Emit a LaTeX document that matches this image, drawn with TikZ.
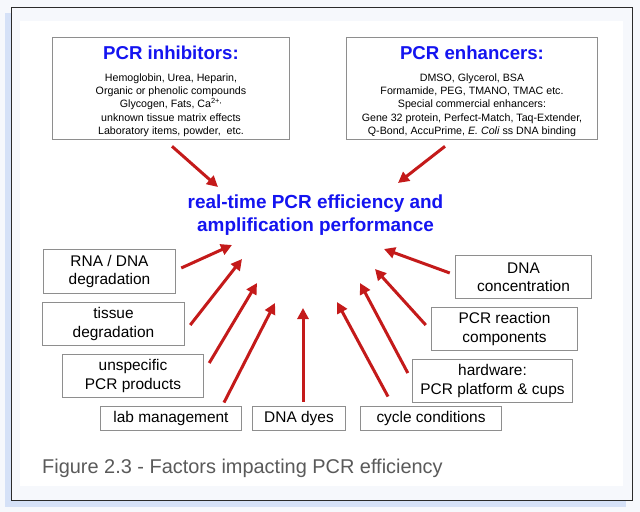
\documentclass[tikz,border=0pt]{standalone}
\usepackage{fontspec}
\setmainfont{Liberation Sans}
\usepackage{xcolor}
\usetikzlibrary{arrows.meta}

\definecolor{pagebg}{HTML}{F6F8FC}
\definecolor{shadowblue}{HTML}{D5E1F7}
\definecolor{framegray}{HTML}{2B2B2B}
\definecolor{boxgray}{HTML}{8E8E8E}
\definecolor{arrowred}{HTML}{C41A1A}
\definecolor{titleblue}{HTML}{1414F0}
\definecolor{captiongray}{HTML}{5A5A5A}

\newcommand{\pcrtitle}{\fontsize{18.7}{22}\selectfont\bfseries\color{titleblue}\rule{0pt}{19.6bp}}

\begin{document}
\begin{tikzpicture}[x=1bp, y=-1bp,
    box/.style={rectangle, draw=boxgray, line width=1bp, fill=white, align=center, inner sep=0pt, font=\fontsize{15.5}{18.5}\selectfont},
    listbox/.style={box, font=\fontsize{10.7}{13.5}\selectfont},
    arrow/.style={-{Triangle[length=11bp,width=11bp]}, line width=3bp, arrowred}
]
    % Page and frame
    \fill[pagebg] (0,0) rectangle (640,512);
    \useasboundingbox (0,0) rectangle (640,512);
    \fill[shadowblue] (5,13) rectangle (626,507);
    \draw[framegray, fill=pagebg, line width=1bp] (11.5,7.5) rectangle (632,500);
    \fill[white] (20,21) rectangle (623,486);

    % Inhibitors and enhancers
    \node[listbox, minimum width=238, minimum height=103] (inhib) at (171,88.5) {{\pcrtitle PCR inhibitors:}\\[8bp]
        Hemoglobin, Urea, Heparin,\\
        Organic or phenolic compounds\\
        Glycogen, Fats, Ca\textsuperscript{2+,}\\
        unknown tissue matrix effects\\
        Laboratory items, powder,\ \ etc.};
    \node[listbox, minimum width=252, minimum height=103] (enh) at (472,88.5) {{\pcrtitle PCR enhancers:}\\[8bp]
        DMSO, Glycerol, BSA\\
        Formamide, PEG, TMANO, TMAC etc.\\
        Special commercial enhancers:\\
        Gene 32 protein, Perfect-Match, Taq-Extender,\\
        Q-Bond, AccuPrime, \textit{E. Coli} ss DNA binding};

    % Goal
    \node[align=center, font=\fontsize{19}{23}\selectfont\bfseries, text=titleblue] (goal) at (315.5,215) {real-time PCR efficiency and\\amplification performance};

    % Factors
    \node[box, minimum width=133, minimum height=44] (rna) at (109.5,271.5) {RNA / DNA\\degradation};
    \node[box, minimum width=142, minimum height=44] (tissue) at (113.5,324) {tissue\\degradation};
    \node[box, minimum width=142, minimum height=44] (unsp) at (133,376) {unspecific\\PCR products};
    \node[box, minimum width=142, minimum height=25] (lab) at (171,418.5) {lab management};
    \node[box, minimum width=94, minimum height=25] (dyes) at (299,418.5) {DNA dyes};
    \node[box, minimum width=142, minimum height=25] (cycle) at (431,418.5) {cycle conditions};
    \node[box, minimum width=161, minimum height=44] (hw) at (492.5,381) {hardware:\\PCR platform \& cups};
    \node[box, minimum width=147, minimum height=44] (react) at (504.5,329) {PCR reaction\\components};
    \node[box, minimum width=137, minimum height=44] (conc) at (523.5,277) {DNA\\concentration};

    % Arrow tips
    \coordinate (inhibtip) at (218,187);
    \coordinate (enhtip) at (398,183);
    \coordinate (rnatip) at (232,245);
    \coordinate (tissuetip) at (242,259);
    \coordinate (unsptip) at (257,283);
    \coordinate (labtip) at (275,303);
    \coordinate (dyestip) at (303,308);
    \coordinate (cycletip) at (337,302);
    \coordinate (hwtip) at (360,283);
    \coordinate (reacttip) at (375,269);
    \coordinate (conctip) at (384,249);

    % Arrows
    \draw[arrow] ([shift={(1,6)}]inhib.south) -- (inhibtip);
    \draw[arrow] ([shift={(-27,6)}]enh.south) -- (enhtip);
    \draw[arrow] ([shift={(5,-3.5)}]rna.east) -- (rnatip);
    \draw[arrow] ([shift={(5.5,1)}]tissue.east) -- (tissuetip);
    \draw[arrow] ([shift={(5,-13)}]unsp.east) -- (unsptip);
    \draw[arrow] ([shift={(53,-3)}]lab.north) -- (labtip);
    \draw[arrow] ([shift={(4,-4)}]dyes.north) -- (dyestip);
    \draw[arrow] ([shift={(-43,-9)}]cycle.north) -- (cycletip);
    \draw[arrow] ([shift={(-4,-8)}]hw.west) -- (hwtip);
    \draw[arrow] ([shift={(-5,-4)}]react.west) -- (reacttip);
    \draw[arrow] ([shift={(-5,-4)}]conc.west) -- (conctip);

    % Caption
    \node[anchor=west, inner sep=0pt, font=\fontsize{20}{24}\selectfont, text=captiongray] (caption) at (42,468) {Figure 2.3 - Factors impacting PCR efficiency};
\end{tikzpicture}
\end{document}
